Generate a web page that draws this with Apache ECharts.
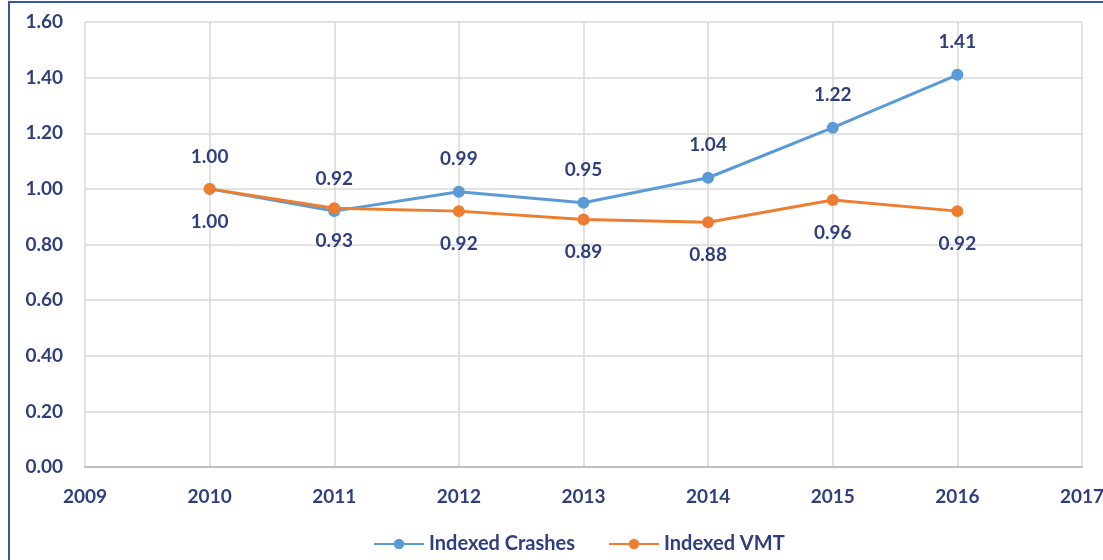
<!DOCTYPE html>
<html>
<head>
<meta charset="utf-8">
<script src="https://cdn.jsdelivr.net/npm/echarts@6/dist/echarts.min.js"></script>
<style>
    body { margin: 0; background: #fff; }
    #frame { position: absolute; left: 8px; top: 1px; width: 1200px; height: 600px;
             border-left: 2px solid #3b54a6; border-top: 2px solid #3b54a6; pointer-events: none; }
    #main { position: absolute; left: 0; top: 0; width: 1103px; height: 560px; }
</style>
</head>
<body>
<div id="main"></div>
<div id="frame"></div>
<script>
// 数据
let years = [2010, 2011, 2012, 2013, 2014, 2015, 2016];
let crashes = [1.00, 0.92, 0.99, 0.95, 1.04, 1.22, 1.41];
let vmt = [1.00, 0.93, 0.92, 0.89, 0.88, 0.96, 0.92];

let navy = '#2f3f7d';
let font = 'Lato, "Open Sans", sans-serif';

function pairs(vals) {
    return years.map((y, i) => [y, vals[i]]);
}

let option = {
    animation: false,
    textStyle: { fontFamily: font },
    grid: { left: 85, right: 21, top: 22, bottom: 93, containLabel: false, outerBoundsMode: 'none' },
    legend: {
        bottom: 1,
        left: 368,
        itemWidth: 50,
        itemHeight: 13,
        itemGap: 33,
        textStyle: { color: navy, fontSize: 20, fontWeight: 'bold', fontFamily: font },
        data: ['Indexed Crashes', 'Indexed VMT']
    },
    xAxis: {
        type: 'value',
        min: 2009,
        max: 2017,
        interval: 1,
        axisLine: { show: true, lineStyle: { color: '#bfbfbf', width: 2 } },
        axisTick: { show: false },
        splitLine: { show: true, lineStyle: { color: '#d9d9d9', width: 1.5 } },
        axisLabel: {
            color: navy, fontSize: 19, fontWeight: 'bold', margin: 20,
            formatter: v => String(v)
        }
    },
    yAxis: {
        type: 'value',
        min: 0,
        max: 1.6,
        interval: 0.2,
        axisLine: { show: false },
        axisTick: { show: false },
        splitLine: { show: true, lineStyle: { color: '#d9d9d9', width: 1.5 } },
        axisLabel: {
            color: navy, fontSize: 19, fontWeight: 'bold', margin: 22,
            formatter: v => v.toFixed(2)
        }
    },
    series: [{
        name: 'Indexed Crashes',
        type: 'line',
        data: pairs(crashes),
        symbol: 'circle',
        symbolSize: 12,
        itemStyle: { color: '#5b9bd5' },
        lineStyle: { width: 3, color: '#5b9bd5' },
        label: {
            show: true, position: 'top', distance: 17,
            color: navy, fontSize: 19, fontWeight: 'bold',
            formatter: p => p.value[1].toFixed(2)
        }
    }, {
        name: 'Indexed VMT',
        type: 'line',
        data: pairs(vmt),
        symbol: 'circle',
        symbolSize: 12,
        itemStyle: { color: '#ed7d31' },
        lineStyle: { width: 3, color: '#ed7d31' },
        label: {
            show: true, position: 'bottom', distance: 17,
            color: navy, fontSize: 19, fontWeight: 'bold',
            formatter: p => p.value[1].toFixed(2)
        }
    }]
};

echarts.init(document.getElementById('main')).setOption(option);
</script>
</body>
</html>
